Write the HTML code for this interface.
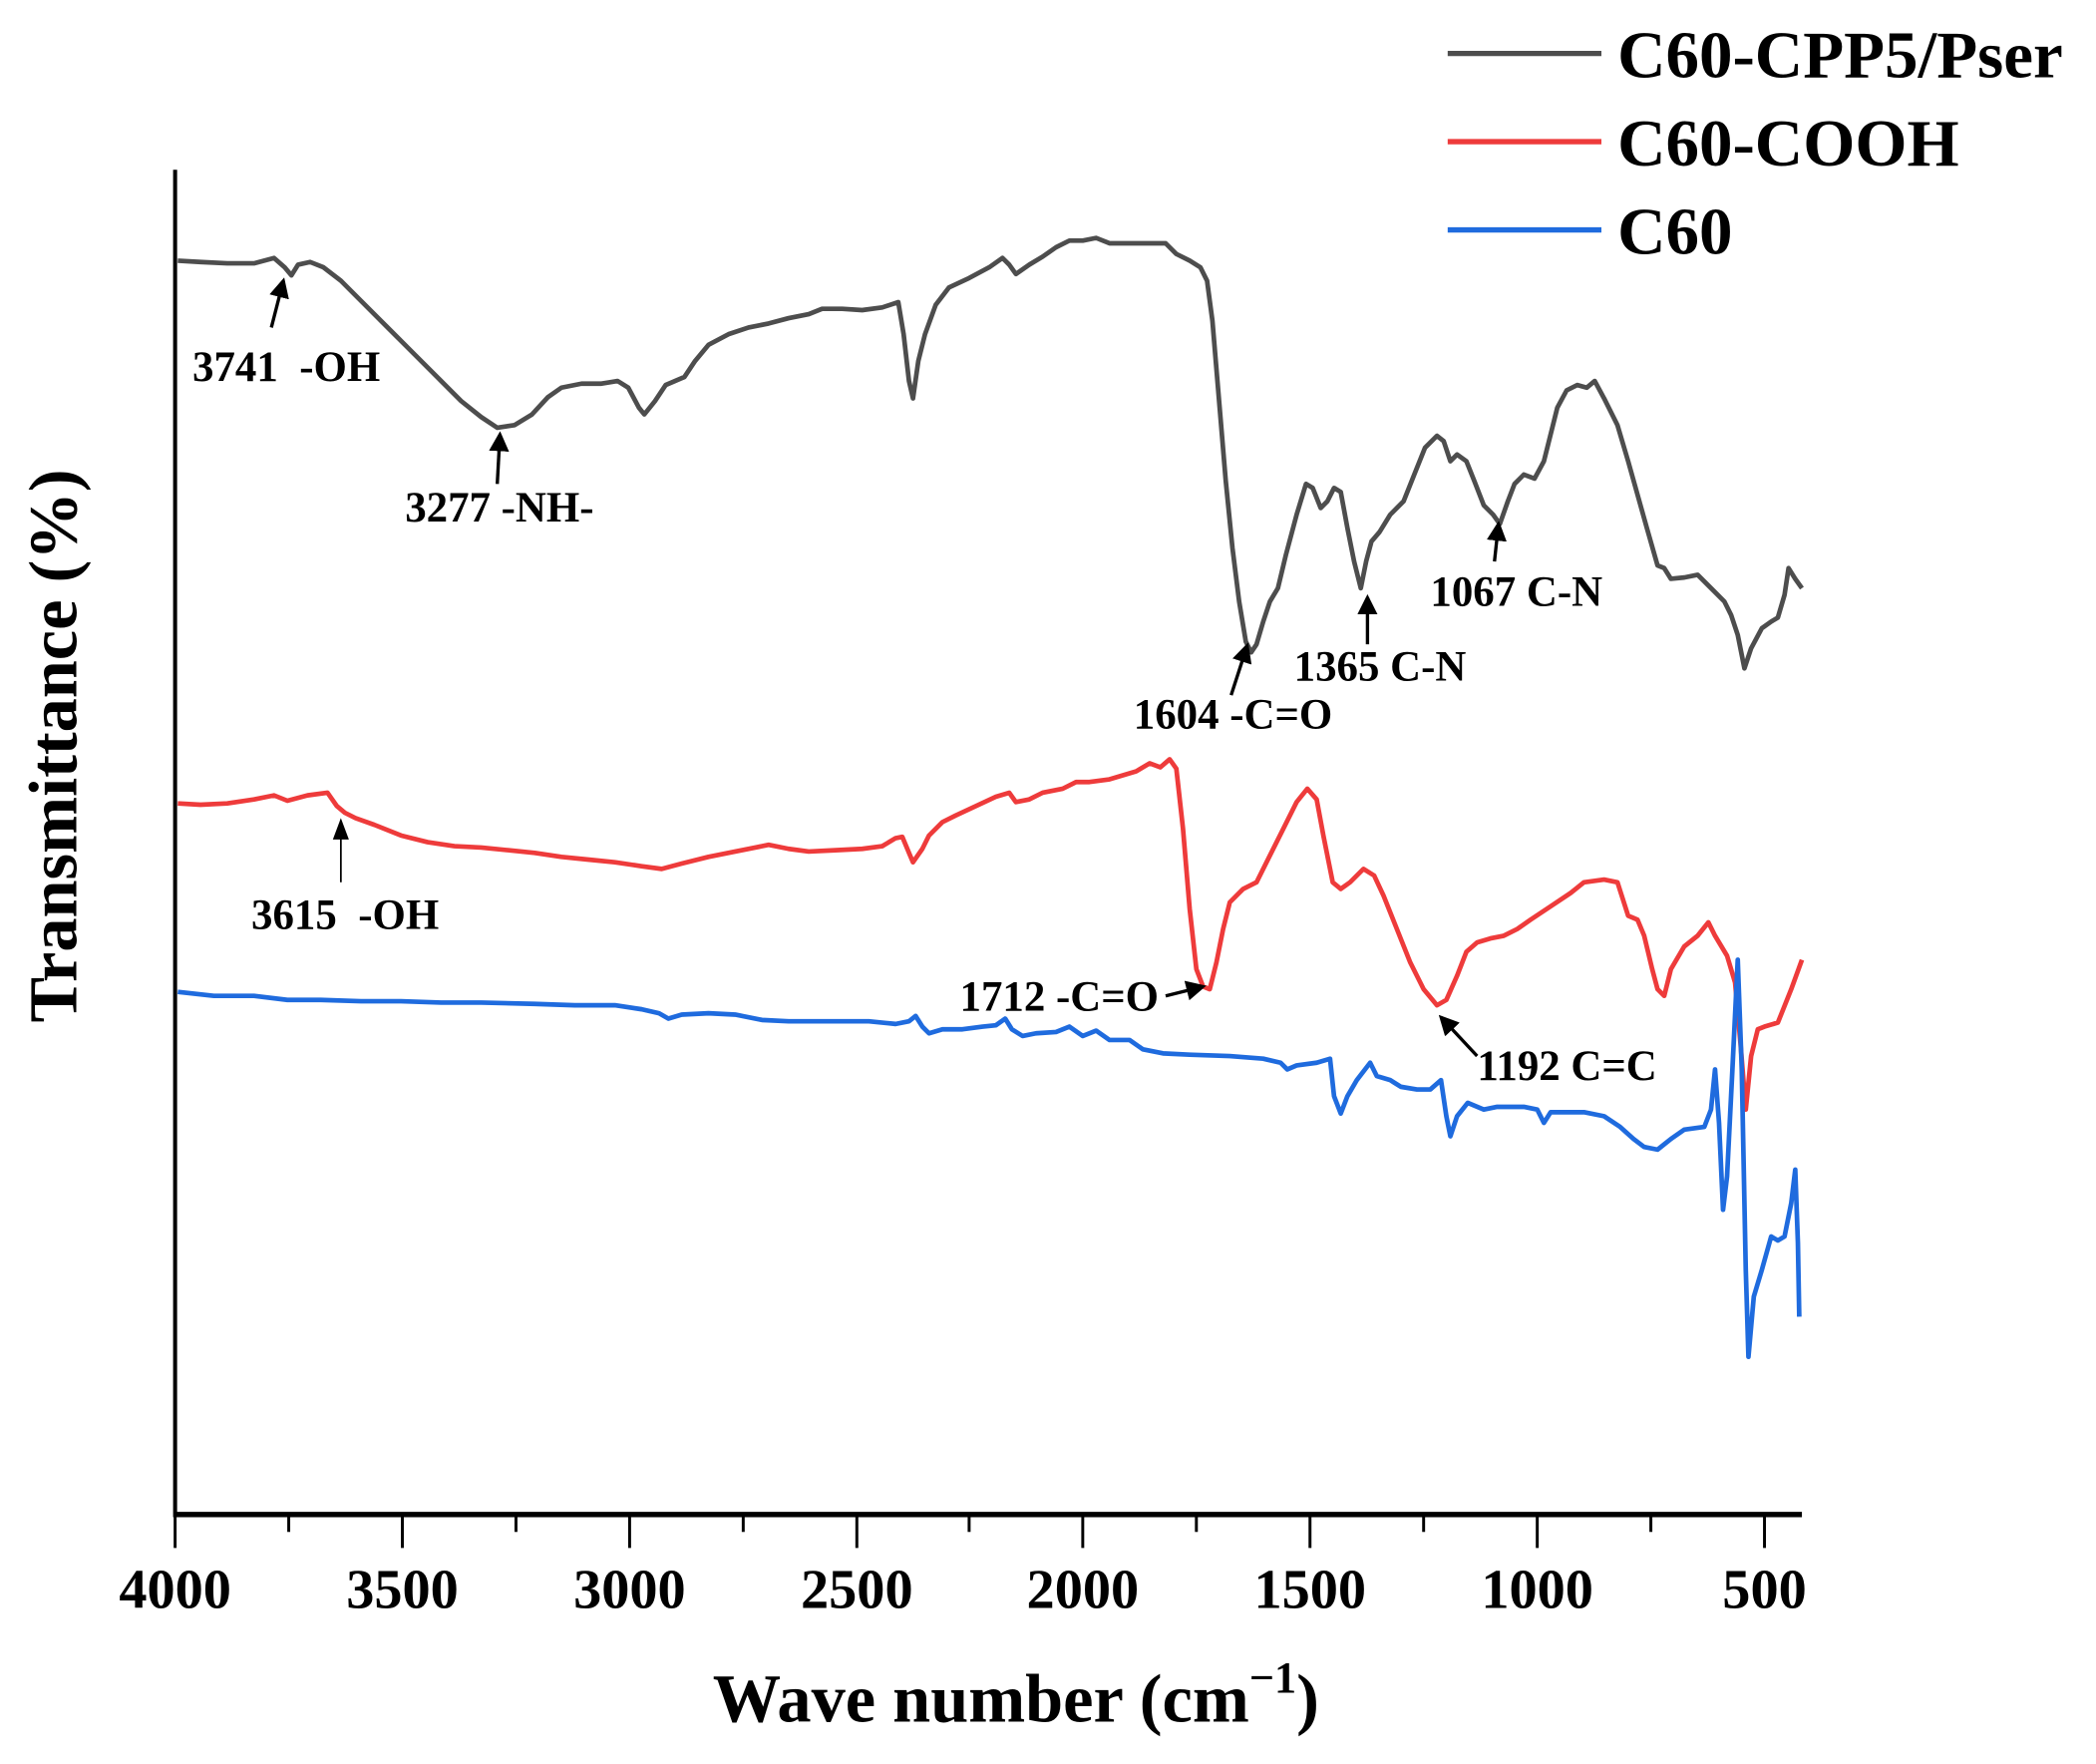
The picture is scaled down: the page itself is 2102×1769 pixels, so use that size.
<!DOCTYPE html>
<html><head><meta charset="utf-8"><style>
html,body{margin:0;padding:0;background:#fff;}
svg{display:block;}
text{font-family:"Liberation Serif",serif;font-weight:bold;fill:#000;}
</style></head><body>
<svg width="2102" height="1769" viewBox="0 0 1568 1319.6" preserveAspectRatio="none" xmlns="http://www.w3.org/2000/svg">
<defs><marker id="ah" markerWidth="6" markerHeight="6" refX="5" refY="3" orient="auto" markerUnits="strokeWidth"><path d="M0,0 L6,3 L0,6 z" fill="#000"/></marker></defs>
<line x1="131" y1="127" x2="131" y2="1135" stroke="#000" stroke-width="3"/>
<line x1="130" y1="1133" x2="1348" y2="1133" stroke="#000" stroke-width="4"/>
<g stroke="#000" stroke-width="2.2">
<line x1="131" y1="1133" x2="131" y2="1158"/><line x1="301" y1="1133" x2="301" y2="1158"/><line x1="471" y1="1133" x2="471" y2="1158"/><line x1="641" y1="1133" x2="641" y2="1158"/><line x1="810" y1="1133" x2="810" y2="1158"/><line x1="980" y1="1133" x2="980" y2="1158"/><line x1="1150" y1="1133" x2="1150" y2="1158"/><line x1="1320" y1="1133" x2="1320" y2="1158"/>
<line x1="216" y1="1133" x2="216" y2="1146"/><line x1="386" y1="1133" x2="386" y2="1146"/><line x1="556" y1="1133" x2="556" y2="1146"/><line x1="725" y1="1133" x2="725" y2="1146"/><line x1="895" y1="1133" x2="895" y2="1146"/><line x1="1065" y1="1133" x2="1065" y2="1146"/><line x1="1235" y1="1133" x2="1235" y2="1146"/>
</g>
<g font-size="42" text-anchor="middle">
<text x="131" y="1203">4000</text><text x="301" y="1203">3500</text><text x="471" y="1203">3000</text><text x="641" y="1203">2500</text><text x="810" y="1203">2000</text><text x="980" y="1203">1500</text><text x="1150" y="1203">1000</text><text x="1320" y="1203">500</text>
</g>
<text x="760" y="1288" font-size="51" text-anchor="middle">Wave number (cm<tspan font-size="33" dy="-22">−1</tspan><tspan dy="22">)</tspan></text>
<text transform="translate(57,558) rotate(-90)" font-size="51" text-anchor="middle">Transmittance (%)</text>
<line x1="1083" y1="40" x2="1198" y2="40" stroke="#4d4d4d" stroke-width="4"/>
<line x1="1083" y1="106" x2="1198" y2="106" stroke="#ee3b3b" stroke-width="4"/>
<line x1="1083" y1="172" x2="1198" y2="172" stroke="#1f6bde" stroke-width="4"/>
<g font-size="50"><text x="1210" y="58">C60-CPP5/Pser</text><text x="1210" y="124">C60-COOH</text><text x="1210" y="190">C60</text></g>
<polyline fill="none" stroke="#4d4d4d" stroke-width="3.5" stroke-linejoin="round" points="133,195 150,196 170,197 190,197 205,193 213,200 218,206 223,198 232,196 242,200 255,210 270,225 290,245 310,265 330,285 345,300 360,312 372,320 385,318 398,310 410,297 420,290 435,287 450,287 462,285 470,290 478,305 482,310 490,300 498,288 505,285 512,282 520,270 530,258 545,250 560,245 575,242 590,238 605,235 615,231 630,231 645,232 660,230 672,226 676,250 680,285 683,298 687,270 692,250 700,228 710,215 725,208 740,200 750,193 755,198 760,205 770,198 780,192 790,185 800,180 810,180 820,178 830,182 845,182 860,182 872,182 880,190 890,195 898,200 903,210 907,240 912,300 917,360 922,410 927,450 932,480 936,488 940,482 945,465 950,450 956,440 962,415 970,385 977,362 982,365 988,380 993,375 998,365 1003,368 1008,395 1013,420 1018,440 1022,420 1026,405 1032,398 1040,385 1050,375 1058,355 1066,335 1075,326 1080,330 1085,345 1090,340 1097,345 1103,360 1110,378 1117,385 1122,392 1128,375 1133,362 1140,355 1148,358 1155,345 1160,325 1165,305 1172,292 1180,288 1187,290 1193,285 1200,298 1210,318 1218,345 1225,370 1232,395 1240,423 1245,425 1250,433 1260,432 1270,430 1280,440 1290,450 1295,460 1300,475 1305,500 1310,485 1318,470 1325,465 1330,462 1335,445 1338,425 1343,433 1348,440"/>
<polyline fill="none" stroke="#ee3b3b" stroke-width="3.5" stroke-linejoin="round" points="133,601 150,602 170,601 190,598 205,595 215,599 230,595 245,593 252,603 258,608 266,612 280,617 300,625 320,630 340,633 360,634 380,636 400,638 420,641 440,643 460,645 480,648 495,650 510,646 530,641 550,637 565,634 575,632 590,635 605,637 625,636 645,635 660,633 670,627 675,626 680,638 683,645 690,635 695,625 705,615 715,610 730,603 745,596 755,593 760,600 770,598 780,593 795,590 805,585 815,585 830,583 840,580 850,577 860,571 868,574 875,568 880,575 885,620 890,680 895,725 900,738 905,740 910,720 915,695 920,675 930,665 940,660 950,640 960,620 970,600 978,590 985,598 990,625 997,660 1003,665 1010,660 1020,650 1028,655 1035,670 1045,695 1055,720 1065,740 1075,752 1082,748 1090,730 1097,712 1105,705 1115,702 1125,700 1135,695 1145,688 1160,678 1175,668 1185,660 1200,658 1210,660 1218,685 1225,688 1230,700 1236,725 1240,740 1245,745 1250,725 1260,708 1270,700 1278,690 1283,700 1292,715 1298,735 1302,780 1306,830 1310,790 1315,770 1320,768 1330,765 1340,740 1348,718"/>
<polyline fill="none" stroke="#1f6bde" stroke-width="3.5" stroke-linejoin="round" points="133,742 160,745 190,745 215,748 240,748 270,749 300,749 330,750 360,750 400,751 430,752 460,752 480,755 493,758 500,762 510,759 530,758 550,759 570,763 590,764 620,764 650,764 670,766 680,764 685,760 690,768 695,773 705,770 720,770 735,768 745,767 752,762 757,770 765,775 775,773 790,772 800,768 810,775 820,771 830,778 845,778 855,785 870,788 890,789 920,790 945,792 958,795 963,800 970,797 985,795 995,792 998,820 1003,833 1008,820 1015,808 1025,795 1030,805 1040,808 1048,813 1060,815 1070,815 1078,808 1082,835 1085,850 1090,835 1098,825 1110,830 1120,828 1140,828 1150,830 1155,840 1160,832 1170,832 1185,832 1200,835 1212,843 1222,852 1230,858 1240,860 1250,852 1260,845 1275,843 1280,830 1283,800 1286,840 1289,905 1292,880 1296,800 1300,718 1303,800 1306,950 1308,1015 1312,970 1318,950 1325,925 1330,928 1335,925 1340,900 1343,875 1345,930 1346,985"/>
<g stroke="#000" stroke-width="2.5" fill="none">
<line x1="203" y1="245" x2="212" y2="210" marker-end="url(#ah)"/>
<line x1="372" y1="362" x2="374" y2="325" marker-end="url(#ah)"/>
<line x1="921" y1="520" x2="933" y2="483" marker-end="url(#ah)"/>
<line x1="1023" y1="482" x2="1023" y2="447" marker-end="url(#ah)"/>
<line x1="1118" y1="420" x2="1121" y2="392" marker-end="url(#ah)"/>
<line x1="872" y1="745" x2="900" y2="738" marker-end="url(#ah)"/>
<line x1="1105" y1="790" x2="1078" y2="761" marker-end="url(#ah)"/>
</g>
<line x1="255" y1="660" x2="255" y2="625" stroke="#000" stroke-width="1.3"/>
<path d="M249,628 L255,612 L261,628 z" fill="#000"/>
<g font-size="32">
<text x="144" y="285" xml:space="preserve">3741  -OH</text>
<text x="303" y="390">3277 -NH-</text>
<text x="848" y="545">1604 -C=O</text>
<text x="968" y="509">1365 C-N</text>
<text x="1070" y="453">1067 C-N</text>
<text x="188" y="695" xml:space="preserve">3615  -OH</text>
<text x="718" y="756">1712 -C=O</text>
<text x="1105" y="808">1192 C=C</text>
</g>
</svg>
</body></html>
